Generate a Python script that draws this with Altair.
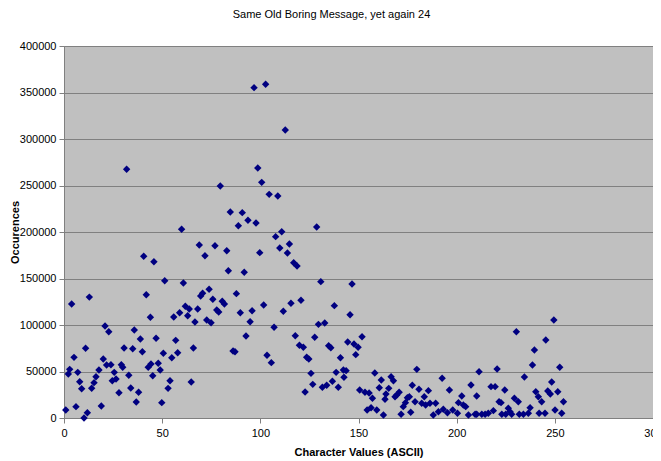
import altair as alt
import pandas as pd

# Character values (x) and occurrence counts (y)
char_values = [
    0.9, 2.2, 2.9, 3.9, 5.1, 6.1, 7.0, 8.0, 9.0, 10.2, 11.0, 11.9, 12.9, 14.1, 15.3,
    16.3, 17.8, 19.0, 20.0, 20.9, 21.7, 22.8, 23.9, 24.6, 25.6, 26.5, 28.0, 29.2, 29.9,
    30.6, 31.9, 33.0, 34.0, 35.0, 35.8, 36.8, 38.0, 38.9, 39.9, 40.6, 41.9, 42.9, 44.0,
    44.3, 45.2, 45.8, 46.9, 48.0, 49.0, 49.8, 50.6, 51.3,
    53.0, 54.0, 54.9, 55.9, 56.9, 57.9, 58.9, 59.9, 60.8, 61.8, 63.0, 63.8, 64.8, 65.9,
    66.7, 68.1, 68.9, 69.6, 70.6, 71.8, 72.7, 73.9, 74.9, 75.8, 76.9, 77.8, 78.8, 79.6,
    80.6, 81.7, 82.9, 83.7, 84.7, 86.1, 87.1, 87.8, 88.8, 89.8, 90.8, 91.8, 92.7, 93.7,
    94.8, 95.8, 96.8, 97.8, 98.7, 99.7, 100.7, 101.7, 102.7, 103.4, 104.5, 105.6, 107.0,
    107.8, 108.9, 109.9, 110.9, 111.7, 112.7, 113.8, 114.8, 115.6, 117.0, 117.8, 118.7,
    119.9, 120.7, 121.9, 122.8, 123.6, 124.7, 125.8, 126.7, 127.7, 128.7, 129.6, 130.8,
    131.6, 132.8, 133.8, 134.8, 135.9, 136.7, 137.7, 138.6, 139.7, 140.8, 142.3, 142.6,
    143.7, 144.5, 145.7, 146.7, 147.7, 148.6, 149.8, 150.6, 151.8, 153.3, 154.4, 155.4,
    156.4, 157.1, 158.3,
    159.3, 160.6, 161.6, 162.7, 163.5, 164.0, 165.4, 166.6, 167.8, 168.6, 169.5, 170.7,
    171.7, 172.8, 173.9, 174.9, 175.9, 176.6, 177.4, 178.8, 179.7, 180.8, 182.2, 183.5,
    184.2, 185.6, 186.4, 188.1, 189.3, 190.7, 192.6, 193.2, 195.3, 196.3, 198.0, 200.4,
    200.9, 202.6, 203.4, 204.6, 206.0, 207.3, 209.4, 210.2, 211.4,
    210.2, 212.8, 214.5, 216.1, 217.5, 218.7, 219.6, 220.6, 221.6, 222.6, 223.0, 224.5,
    225.0, 226.3, 227.2, 228.0, 229.4, 230.4, 231.4, 231.9, 234.0, 234.5, 236.5, 237.4,
    238.6, 239.6, 240.3, 241.6, 242.0, 243.3, 245.0, 245.4, 246.4, 247.7, 248.4, 249.5,
    250.1, 251.5, 252.5, 253.5, 254.4,
]

occurrences = [
    8600, 47300, 52300, 122600, 65200, 12200, 49100, 39000, 31500, 0, 75000, 5700, 130000, 32000, 38000,
    44400, 51600, 12900, 63400, 99000, 57000, 92800, 57300, 40100, 49100, 42000, 27200, 57300, 54500,
    75300, 267400, 45900, 32300, 74500, 94600, 17200, 27600, 85000, 71300, 173900, 132600, 54500, 108300,
    58000, 45500, 168000, 85700, 58800, 51600, 16500, 69600, 147600,
    31900, 40100, 64800, 108600, 83500, 70200, 113200, 203000, 145200, 120100, 110000, 117200, 38700, 75300,
    103200, 117200, 186000, 131200, 134100, 174500, 105400, 138400, 102500, 127600, 185300, 116100, 114000, 249500,
    125500, 122600, 179900, 158400, 221500, 72000, 71300, 133700, 206800, 113200, 220800, 156700, 88200, 212600,
    103500, 115400, 355200, 209700, 268800, 177800, 253400, 121500, 358800, 67400, 240500, 59500, 97500,
    195000, 238700, 182800, 200300, 114700, 309700, 177400, 187100, 123300, 167000, 88500, 163400,
    78200, 126600, 76000, 28000, 65300, 63400, 48000, 36200, 86800, 205400, 100700, 146600,
    33000, 102200, 35200, 77700, 75600, 39500, 120800, 49100, 33000, 64800, 51600, 43800,
    50900, 81700, 111100, 144100, 79600, 68100, 76000, 30100, 87400, 27600, 8600, 26900,
    11100, 21200, 48300,
    8600, 32600, 40900, 3200, 20100, 25800, 31900, 44400, 40100, 22900, 24700, 27600,
    4000, 12200, 16500, 21800, 22900, 6100, 35200, 17500, 52300, 30900, 15800, 22900,
    14000, 29400, 15800, 3200, 15800, 6800, 42700, 9400, 5700, 30100, 8600, 5100,
    16500, 23700, 14000, 12200, 3200, 35500, 4000, 23700, 49800,
    4000, 4000, 4000, 5100, 33700, 7900, 33700, 52700, 17500, 16500, 4000, 30100,
    4000, 10400, 6800, 4000, 21200, 92800, 17500, 4000, 4000, 44100, 5100, 11100,
    57000, 73100, 28300, 22900, 5100, 17500, 5100, 83900, 29000, 25800, 38700, 105400,
    8600, 28300, 54500, 5100, 17500,
]

x_ticks = [0, 50, 100, 150, 200, 250, 300]
y_ticks = [0, 50000, 100000, 150000, 200000, 250000, 300000, 350000, 400000]

df = pd.DataFrame({"ascii": char_values, "count": occurrences})

FONT = "Liberation Sans"

chart = (
    alt.Chart(df)
    .mark_point(shape="diamond", filled=True, color="#000080", size=55, opacity=1, strokeWidth=0)
    .encode(
        x=alt.X(
            "ascii:Q",
            scale=alt.Scale(domain=[0, 300], nice=False, zero=False),
            axis=alt.Axis(
                values=x_ticks,
                title="Character Values (ASCII)",
                grid=False,
                domainColor="#808080",
                tickColor="#808080",
                tickSize=5,
                labelPadding=4,
                labelFont=FONT,
                labelFontSize=11,
                labelColor="#000000",
                titleFont=FONT,
                titleFontSize=11,
                titleFontWeight="bold",
                titleColor="#000000",
                titleY=34,
                titleBaseline="middle",
                labelFlush=False,
                labelOverlap=False,
            ),
        ),
        y=alt.Y(
            "count:Q",
            scale=alt.Scale(domain=[0, 400000], nice=False),
            axis=alt.Axis(
                values=y_ticks,
                format="d",
                title="Occurences",
                grid=True,
                gridColor="#808080",
                gridWidth=1,
                domainColor="#808080",
                tickColor="#808080",
                tickSize=5,
                labelPadding=3,
                labelFont=FONT,
                labelFontSize=11,
                labelColor="#000000",
                titleFont=FONT,
                titleFontSize=11,
                titleFontWeight="bold",
                titleColor="#000000",
                titleX=-49,
                titleY=186,
                titleAlign="center",
                titleBaseline="middle",
                labelFlush=False,
                labelOverlap=False,
            ),
        ),
    )
    .properties(
        width=589,
        height=372,
        title=alt.Title(
            "Same Old Boring Message, yet again 24",
            anchor="middle",
            font=FONT,
            fontSize=11,
            fontWeight="normal",
            color="#000000",
            dx=-27,
            offset=20,
        ),
        autosize=alt.AutoSizeParams(type="none"),
        padding={"left": 56, "top": 38, "right": 0, "bottom": 40},
        background="#FFFFFF",
    )
    .configure_view(fill="#C0C0C0", stroke="#808080", strokeWidth=1)
)

chart.save("out.html", embed_options={"renderer": "svg", "actions": False})
